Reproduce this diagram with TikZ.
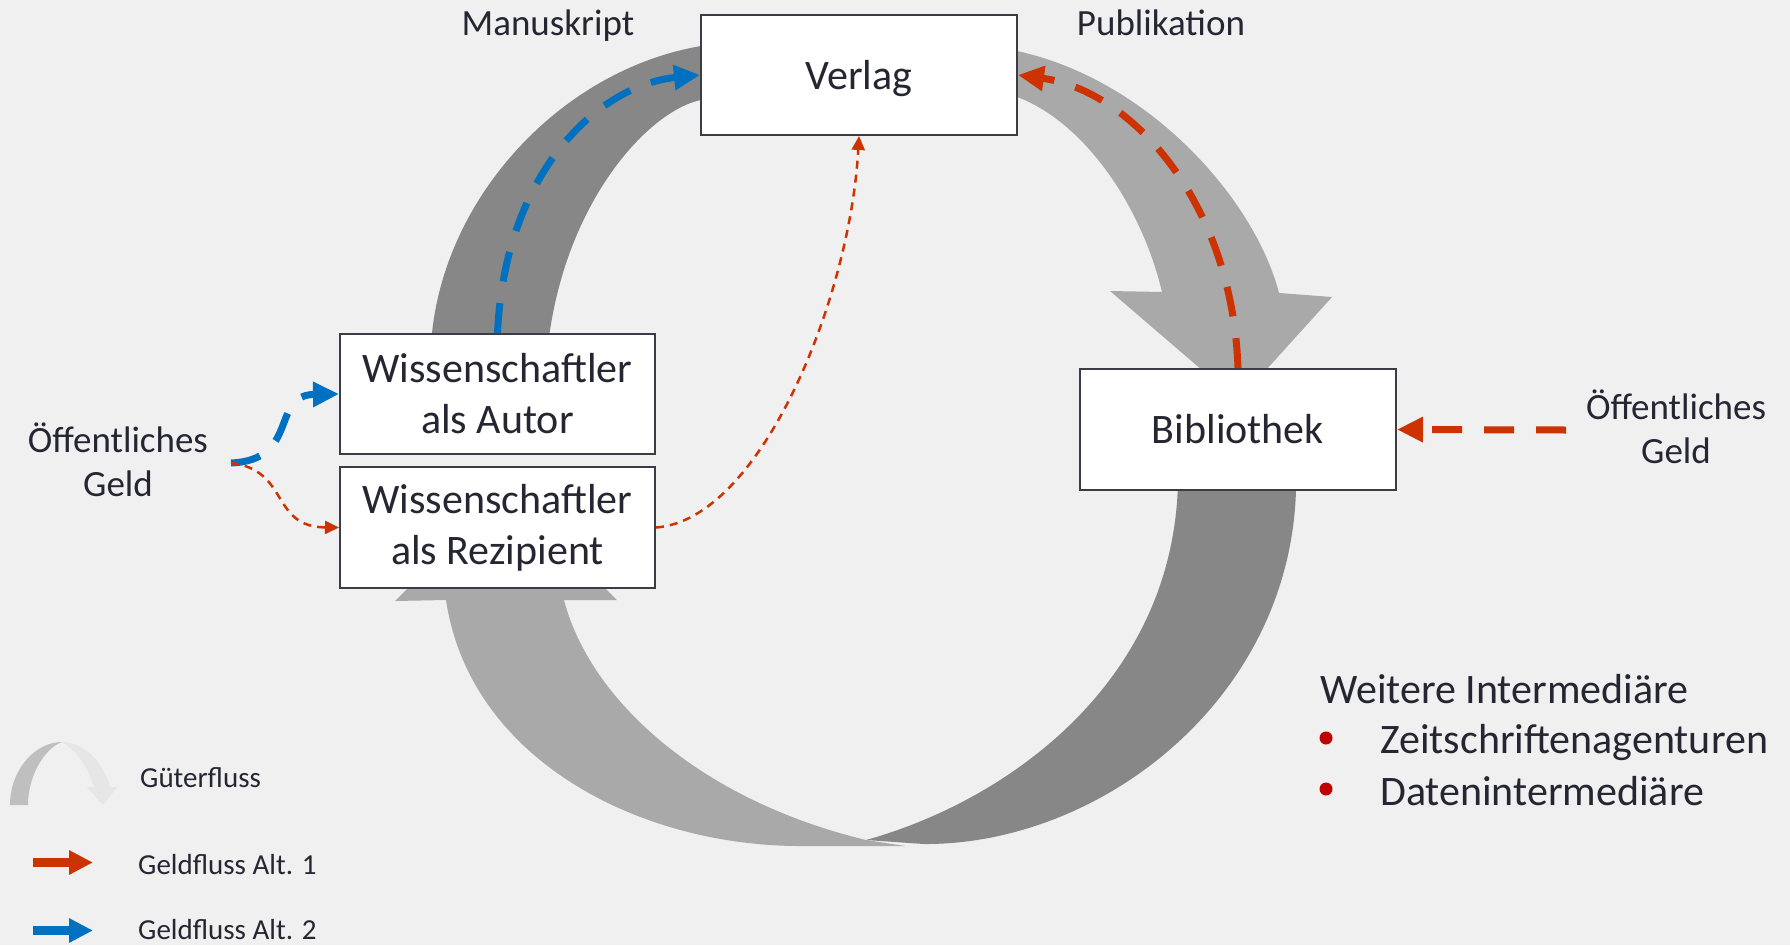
\documentclass[tikz,border=0pt]{standalone}
\usepackage{fontspec}
\setmainfont{Carlito}
\usepackage{xcolor}
\usetikzlibrary{arrows.meta}

\definecolor{hintergrund}{HTML}{F0F0F0}
\definecolor{banddunkel}{HTML}{878787}
\definecolor{bandhell}{HTML}{A9A9A9}
\definecolor{geldrot}{HTML}{CC3300}
\definecolor{geldblau}{HTML}{0070C0}
\definecolor{schrift}{HTML}{262633}
\definecolor{punktrot}{HTML}{C00000}
\definecolor{rahmen}{HTML}{3C3C46}
\definecolor{legendegrau}{HTML}{BFBFBF}
\definecolor{legendehell}{HTML}{E6E6E6}

\begin{document}
\begin{tikzpicture}[x=1pt,y=-1pt,
	kasten/.style={draw=rahmen,line width=2pt,fill=white,text=schrift,align=center,minimum width=316pt,minimum height=120pt,inner sep=0pt,font=\fontsize{42}{51}\selectfont},
	beschr/.style={text=schrift,align=center,inner sep=0pt,font=\fontsize{37}{44}\selectfont},
	liste/.style={text=schrift,anchor=base west,inner sep=0pt,font=\fontsize{42}{51}\selectfont},
	legtext/.style={text=schrift,anchor=base west,inner sep=0pt,font=\fontsize{29}{35}\selectfont},
	dick/.style={line width=7pt,dash pattern=on 30pt off 22pt,-{Triangle[length=26pt,width=24pt]}},
	duenn/.style={geldrot,line width=2.5pt,dash pattern=on 8pt off 6pt,-{Triangle[length=14pt,width=13pt]}}]
	\fill[hintergrund] (0,0) rectangle (1790,945);
	\useasboundingbox (0,0) rectangle (1790,945);

	\fill[banddunkel] (431,345) .. controls (440,200) and (560,70) .. (701,46) -- (780,46) -- (780,100) -- (701,100) .. controls (650,110) and (565,200) .. (548,345) -- cycle;
	\fill[bandhell] (960,51) -- (1017,51) .. controls (1150,80) and (1255,200) .. (1279,293) -- (1332,297) -- (1238,401) -- (1110,291) -- (1162,292) .. controls (1140,200) and (1080,120) .. (1017,97) -- (960,97) -- cycle;
	\fill[bandhell] (446,600) .. controls (470,760) and (640,846) .. (800,846) -- (905,846) -- (866,840) .. controls (700,800) and (590,700) .. (564,600) -- (617,600) -- (506,490) -- (395,601) -- cycle;
	\fill[banddunkel] (1178,480) -- (1297,480) -- (1296,490) .. controls (1290,700) and (1100,845) .. (924,844) -- (866,840) .. controls (1010,800) and (1175,680) .. (1178,480) -- cycle;

	\node[kasten,text depth=0pt] (verlag) at (859,75) {Verlag};
	\node[kasten,minimum width=315pt] (autor) at (497.5,394) {Wissenschaftler\\als Autor};
	\node[kasten,minimum width=315pt,minimum height=121pt] (rezipient) at (497.5,527.5) {Wissenschaftler\\als Rezipient};
	\node[kasten,minimum height=121pt] (bibliothek) at (1238,429.5) {Bibliothek};

	\node[beschr,anchor=base] (manuskript) at (548,35) {Manuskript};
	\node[beschr,anchor=base] (publikation) at (1161,35) {Publikation};
	\node[beschr] (geldlinks) at (118,460) {Öffentliches\\Geld};
	\node[beschr] (geldrechts) at (1676,427) {Öffentliches\\Geld};
	\coordinate (startlinks) at (231,463);
	\coordinate (startrechts) at (1566,430);

	\draw[dick,geldblau] (autor.north) .. controls (505,170) and (600,85) .. (verlag.west);
	\draw[dick,geldrot] (bibliothek.north) .. controls (1232,200) and (1130,90) .. (verlag.east);
	\draw[dick,geldrot] (startrechts) -- (bibliothek.east);
	\draw[dick,geldblau] (startlinks) .. controls (300,460) and (270,395) .. (autor.west);
	\draw[duenn] (startlinks) .. controls (290,470) and (270,527) .. (rezipient.west);
	\draw[duenn] (rezipient.east) .. controls (760,520) and (850,300) .. (verlag.south);

	\node[liste] (weitere) at (1320,703) {Weitere Intermediäre};
	\node[liste] (zeitschriften) at (1380,753) {Zeitschriftenagenturen};
	\node[liste] (daten) at (1380,805) {Datenintermediäre};
	\fill[punktrot] (1326,738) circle (6.5pt);
	\fill[punktrot] (1326,789) circle (6.5pt);

	\fill[legendegrau] (10,805) .. controls (10,770) and (35,742) .. (62,742) .. controls (45,748) and (28,775) .. (28,805) -- cycle;
	\fill[legendehell] (62,742) .. controls (85,742) and (105,765) .. (110,787) -- (117,787) -- (103,805) -- (87,787) -- (94,787) .. controls (88,765) and (75,750) .. (62,742) -- cycle;
	\node[legtext] (gueter) at (140,787) {Güterfluss};
	\coordinate (rotA) at (33,862.5);
	\coordinate (rotB) at (93,862.5);
	\coordinate (blauA) at (33,930.5);
	\coordinate (blauB) at (93,930.5);
	\draw[geldrot,line width=9pt,-{Triangle[length=24pt,width=23pt]}] (rotA) -- (rotB);
	\draw[geldblau,line width=9pt,-{Triangle[length=24pt,width=23pt]}] (blauA) -- (blauB);
	\node[legtext] (alteins) at (138,874) {Geldfluss Alt. 1};
	\node[legtext] (altzwei) at (138,939) {Geldfluss Alt. 2};
\end{tikzpicture}
\end{document}
